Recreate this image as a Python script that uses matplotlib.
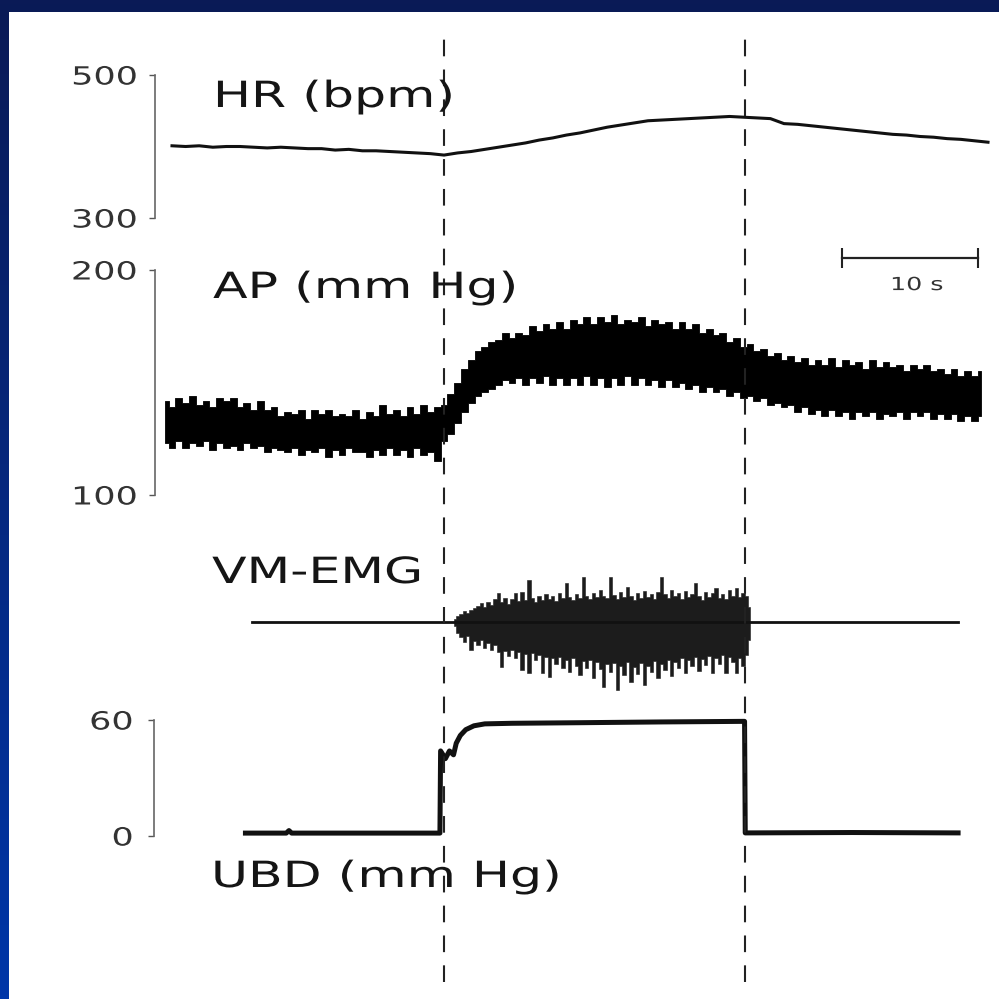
import numpy as np
import matplotlib.pyplot as plt
from matplotlib.patheffects import AbstractPathEffect
from matplotlib.transforms import Affine2D
from matplotlib.colors import LinearSegmentedColormap

plt.rcParams['lines.scale_dashes'] = False

# ---------------- data ----------------
# heart rate, one sample per second from t = -20 s
hr_bpm = [401, 400, 401, 399, 400, 400, 399, 398, 399, 398, 397,
          397, 395, 396, 394, 394, 393, 392, 391, 390, 388,
          391, 393, 396, 399, 402, 405, 409, 412, 416, 419,
          423, 427, 430, 433, 436, 437, 438, 439, 440, 441,
          442, 441, 440, 439, 432, 431, 429, 427, 425, 423,
          421, 419, 417, 416, 414, 413, 411, 410, 408, 406]
hr_start = -20.0

# arterial pressure envelope (upper / lower edge), every 0.5 s from t = -20.5 s
ap_hi = [142, 139, 143, 141, 144, 140, 142, 139, 143, 142, 143, 139, 141, 138, 142, 138,
         139, 135, 137, 136, 138, 134, 138, 136, 138, 135, 136, 135, 138, 134, 137, 135,
         140, 136, 138, 135, 139, 136, 140, 137, 139, 140, 145, 150, 156, 160, 164, 166,
         168, 169, 172, 170, 172, 171, 175, 173, 176, 174, 177, 174, 178, 176, 179, 176,
         179, 177, 180, 176, 178, 177, 179, 175, 178, 176, 177, 174, 177, 174, 176, 172,
         174, 171, 172, 168, 170, 166, 167, 164, 165, 162, 163, 160, 162, 159, 161, 158,
         160, 158, 161, 157, 160, 158, 159, 156, 160, 157, 159, 157, 158, 155, 158, 156,
         158, 155, 156, 154, 156, 153, 155, 153, 155]
ap_lo = [123, 121, 124, 121, 123, 122, 124, 120, 123, 121, 122, 120, 123, 121, 122, 119,
         121, 120, 119, 121, 118, 120, 119, 121, 117, 120, 118, 121, 119, 119, 117, 120,
         118, 121, 118, 120, 117, 121, 118, 119, 115, 124, 127, 132, 137, 141, 144, 146,
         147, 149, 151, 150, 152, 149, 152, 150, 153, 149, 152, 149, 152, 149, 153, 149,
         152, 148, 152, 149, 153, 149, 152, 149, 151, 148, 151, 148, 150, 147, 149, 146,
         148, 146, 147, 144, 146, 143, 144, 142, 143, 140, 141, 139, 140, 137, 139, 136,
         138, 135, 138, 135, 137, 134, 137, 135, 137, 134, 136, 135, 137, 134, 137, 135,
         137, 134, 136, 134, 136, 133, 135, 133, 135]
ap_start = -20.5

# VM-EMG burst envelope (arbitrary units), every 0.25 s from t = 0.75 s
emg_hi = [0.3, 0.6, 0.8, 1.1, 0.9, 1.2, 1.4, 1.6, 1.9, 1.5, 2.0, 1.7, 2.3, 2.9, 2.0, 2.4,
          1.8, 2.3, 2.9, 2.1, 3.0, 2.2, 4.2, 2.4, 2.0, 2.6, 2.2, 2.8, 2.3, 2.6, 2.1, 2.9,
          2.4, 3.9, 2.5, 2.2, 2.8, 2.4, 4.5, 2.6, 2.3, 2.9, 2.5, 3.2, 2.6, 2.4, 4.5, 2.7,
          2.3, 3.0, 2.5, 3.5, 2.6, 2.2, 2.9, 2.4, 3.1, 2.5, 2.8, 2.3, 3.0, 4.5, 2.8, 2.4,
          3.2, 2.6, 2.9, 2.3, 3.1, 2.5, 2.8, 3.9, 2.6, 2.2, 3.0, 2.5, 2.9, 3.4, 2.4, 2.8,
          2.3, 3.2, 2.6, 3.4, 2.5, 2.9, 2.6, 1.5]
emg_lo = [-0.4, -1.1, -1.5, -2.0, -1.4, -2.8, -1.9, -2.3, -1.8, -2.6, -2.1, -2.8, -2.3, -3.0, -4.5, -2.9,
          -3.4, -2.8, -3.6, -3.0, -4.8, -3.2, -5.1, -3.1, -3.8, -3.3, -5.1, -3.5, -5.5, -3.6, -4.2, -3.5,
          -4.6, -3.8, -5.0, -3.6, -4.4, -5.3, -3.9, -4.6, -3.8, -5.6, -4.0, -4.7, -6.5, -4.2, -5.0, -4.1,
          -6.8, -4.4, -5.3, -4.0, -6.0, -4.5, -5.2, -4.1, -6.3, -4.4, -5.0, -3.9, -5.6, -4.2, -4.8, -3.8,
          -5.4, -4.0, -4.6, -3.6, -5.1, -3.8, -4.4, -3.5, -4.9, -3.7, -4.3, -3.4, -5.1, -3.6, -4.2, -3.3,
          -5.1, -3.5, -4.0, -5.1, -3.6, -4.4, -3.3, -1.8]
emg_start = 0.75
emg_line_t = [-14.1, 37.8]
emg_line_v = [0, 0]

# upper-body decompression (mm Hg)
ubd_t = [-14.6, -11.6, -11.4, -11.2, -0.3, -0.25, 0.1, 0.4, 0.7, 0.9, 1.2, 1.6,
         2.2, 3.0, 5.0, 10.0, 16.0, 22.1, 22.15, 30.0, 37.8]
ubd_v = [1.5, 1.5, 2.8, 1.5, 1.5, 44, 40, 44, 42, 48, 52, 55, 57, 58, 58.3, 58.6,
         59, 59.3, 1.6, 1.8, 1.6]

event_t = [0.0, 22.1]      # start / end of UBD
scalebar_s = 10

labels = ['HR (bpm)', 'AP (mm Hg)', 'VM-EMG', 'UBD (mm Hg)']

# ---------------- layout helpers ----------------
W = 999
PX_PER_S = 13.6
X0 = 444  # pixel of t = 0
T_LEFT, T_RIGHT = -X0 / PX_PER_S, (W - X0) / PX_PER_S


class Stretch(AbstractPathEffect):
    """widen glyphs horizontally, like the spaced lettering of the scan"""
    def __init__(self, sx, anchor='left'):
        super().__init__()
        self.sx = sx
        self.anchor = anchor

    def draw_path(self, renderer, gc, tpath, affine, rgbFace=None):
        ext = tpath.get_extents()
        x0 = {'left': 0.0, 'center': (ext.x0 + ext.x1) / 2, 'right': ext.x1}[self.anchor]
        tr = Affine2D().translate(-x0, 0).scale(self.sx, 1).translate(x0, 0)
        renderer.draw_path(gc, tpath, tr + affine, rgbFace)


def trace_axes(v1, y1, v2, y2):
    ax = fig.add_axes([0, 0, 1, 1])
    ax.set_facecolor('none')
    ppu = (y2 - y1) / (v1 - v2)
    ax.set_xlim(T_LEFT, T_RIGHT)
    ax.set_ylim(v1 - (W - y1) / ppu, v1 + y1 / ppu)
    for s in ax.spines.values():
        s.set_visible(False)
    ax.set_xticks([])
    ax.set_yticks([])
    return ax


def scale_spine(ax, lo, hi, x_px, pad):
    sp = ax.spines['left']
    sp.set_visible(True)
    sp.set_position(('data', (x_px - X0) / PX_PER_S))
    sp.set_bounds(lo, hi)
    sp.set_color('#666666')
    sp.set_linewidth(1.2)
    ax.set_yticks([lo, hi])
    ax.tick_params(axis='y', length=4.3, width=1, color='#555555', pad=pad,
                   labelsize=18, labelcolor='#333333')
    for lab in ax.yaxis.get_majorticklabels():
        lab.set_path_effects([Stretch(1.4, 'right')])


def label(x_px, y_px, s):
    fig.text(x_px / W, 1 - y_px / W, s, fontsize=26, color='#151515',
             ha='left', va='baseline', path_effects=[Stretch(1.4, 'left')])


fig = plt.figure(figsize=(9.99, 9.99), dpi=100)

# blue slide frame + white panel
frame = LinearSegmentedColormap.from_list('frame', ['#0a1a56', '#0036a8'])
bg = fig.add_axes([0, 0, 1, 1])
bg.imshow(np.linspace(0, 1, 256).reshape(-1, 1), aspect='auto', cmap=frame,
          extent=[0, 1, 0, 1])
bg.axis('off')
panel = fig.add_axes([9 / W, 0, 1 - 9 / W, 1 - 12 / W])
panel.set_facecolor('white')
panel.set_xticks([])
panel.set_yticks([])
for s in panel.spines.values():
    s.set_visible(False)

# HR
ax_hr = trace_axes(500, 75, 300, 218)
hr_t = hr_start + np.arange(len(hr_bpm))
ax_hr.plot(hr_t, hr_bpm, color='#111111', lw=2.2)
scale_spine(ax_hr, 300, 500, 155, 8.6)

# AP
ax_ap = trace_axes(200, 270, 100, 495)
ap_t = ap_start + 0.5 * np.arange(len(ap_hi))
ax_ap.fill_between(ap_t, ap_lo, ap_hi, step='mid', color='black', lw=0.6)
scale_spine(ax_ap, 100, 200, 155, 8.6)
sb_t0 = (842 - X0) / PX_PER_S
ax_ap.plot([sb_t0, sb_t0 + scalebar_s], [205.3, 205.3], color='#222222', lw=1.6,
           marker='|', ms=14, mew=1.5)
ax_ap.text(sb_t0 + scalebar_s / 2 + 0.5, 193.3, f'{scalebar_s} s', fontsize=13,
           color='#333333', ha='center', va='center',
           path_effects=[Stretch(1.4, 'center')])

# VM-EMG
ax_emg = trace_axes(0, 622, 1, 612)
ax_emg.plot(emg_line_t, emg_line_v, color='#111111', lw=2)
emg_t = emg_start + 0.25 * np.arange(len(emg_hi))
ax_emg.fill_between(emg_t, emg_lo, emg_hi, step='mid', color='#1c1c1c', lw=0.4)

# UBD
ax_ubd = trace_axes(60, 720, 0, 836)
ax_ubd.plot(ubd_t, ubd_v, color='#111111', lw=3.6, solid_joinstyle='round')
scale_spine(ax_ubd, 0, 60, 154, 10.8)

# dashed event markers through all panels
for t in event_t:
    ax_ubd.axvline(t, ymin=1 - 982 / W, ymax=1 - 33 / W, color='#222222',
                   lw=1.5, ls=(0, (12, 9.5)))

label(213, 107, labels[0])
label(213, 298, labels[1])
label(212, 583, labels[2])
label(211, 887, labels[3])

fig.savefig('out.png', dpi=100)
